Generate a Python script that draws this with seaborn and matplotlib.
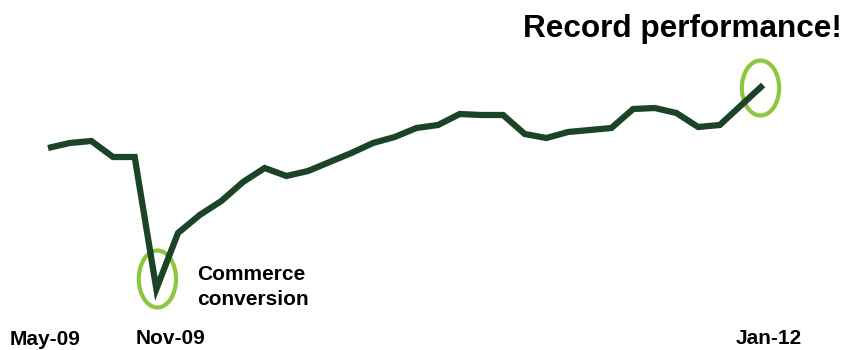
import matplotlib
matplotlib.use("Agg")
import matplotlib.pyplot as plt
import seaborn as sns
import pandas as pd
from matplotlib.patches import Ellipse

# Monthly performance index, May-09 onwards
months = pd.date_range("2009-05-01", periods=34, freq="MS").strftime("%b-%y").tolist()
performance = [152, 157, 159, 143, 143, 11, 67, 85, 99, 118, 132, 124, 129, 138,
               147, 157, 163, 172, 175, 186, 185, 185, 166, 162, 168, 170, 172,
               191, 192, 187, 173, 175, 195, 215]
tick_labels = ["May-09", "Nov-09", "Jan-12"]
callout_low = ["Commerce", "conversion"]
headline = "Record performance!"

df = pd.DataFrame({"idx": range(len(months)), "month": months, "value": performance})

sns.set_theme(style="white")
plt.rcParams["font.family"] = ["Liberation Sans", "DejaVu Sans"]

W, H = 846, 350
fig = plt.figure(figsize=(W / 100, H / 100), dpi=100)
ax = fig.add_axes([0, 0, 1, 1])

LINE = "#1b4325"
RING = "#8dc63f"

# Highlight rings around the low point and the latest point
low_i = df["value"].idxmin()
last_i = len(df) - 1
ring_w, ring_h = 1.72, 57
ax.add_patch(Ellipse((low_i + 0.05, df.loc[low_i, "value"] + 10), ring_w, ring_h,
                     fill=False, edgecolor=RING, linewidth=3.0, zorder=1))
ax.add_patch(Ellipse((last_i - 0.12, df.loc[last_i, "value"] - 3), ring_w, ring_h - 2,
                     fill=False, edgecolor=RING, linewidth=3.0, zorder=1))

sns.lineplot(data=df, x="idx", y="value", ax=ax, color=LINE, linewidth=4.5,
             zorder=2, legend=False)
for ln in ax.get_lines():
    ln.set_solid_joinstyle("miter")
    ln.set_solid_capstyle("butt")

ax.set_xlim(-48 / 21.67, (W - 48) / 21.67)
ax.set_ylim(-50, 300)
ax.set_axis_off()

def px(x, y):
    return x / W, 1 - y / H

bold = dict(fontweight="bold", color="black")
ax.text(*px(842, 37), headline, transform=ax.transAxes, ha="right",
        va="baseline", fontsize=22.7, **bold)
ax.text(*px(197, 280), callout_low[0], transform=ax.transAxes, ha="left",
        va="baseline", fontsize=15, **bold)
ax.text(*px(197, 305), callout_low[1], transform=ax.transAxes, ha="left",
        va="baseline", fontsize=15, **bold)

for lab, (x, y) in zip(tick_labels, [(10, 345), (136, 344), (736, 344)]):
    ax.text(*px(x, y), lab, transform=ax.transAxes, ha="left", va="baseline",
            fontsize=15, **bold)

fig.savefig("out.png", dpi=100, facecolor="white")
